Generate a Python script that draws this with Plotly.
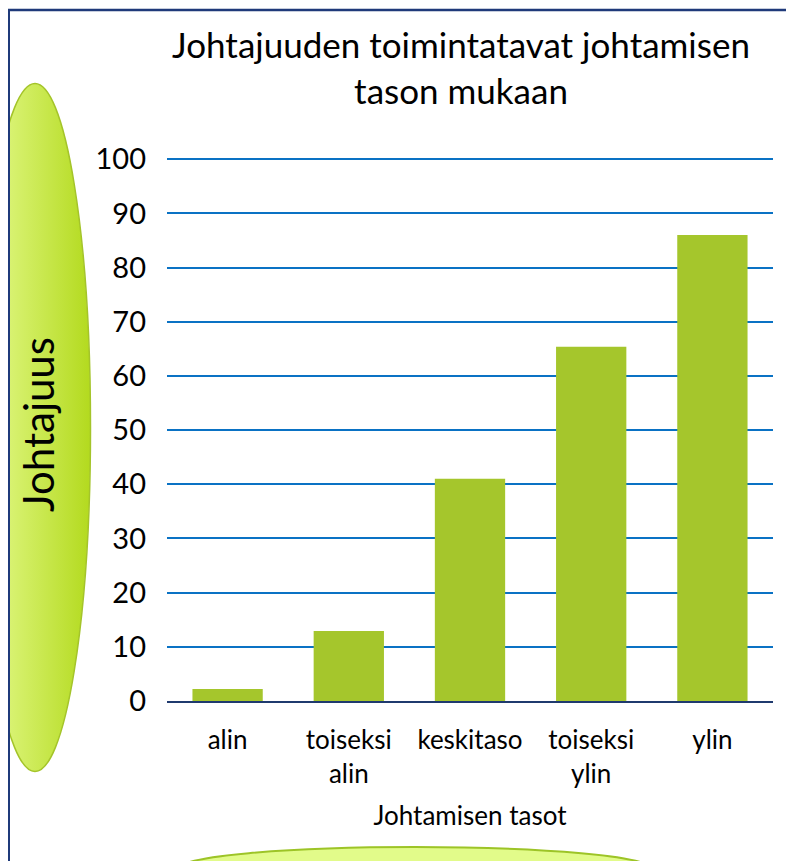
import base64
import plotly.graph_objects as go

# values
tasot = ["alin", "toiseksi<br>alin", "keskitaso", "toiseksi<br>ylin", "ylin"]
johtajuus = [2.2, 12.9, 41.0, 65.4, 86.0]
y_ticks = [0, 10, 20, 30, 40, 50, 60, 70, 80, 90, 100]

# page body adds an 8px margin, so the figure sits at (8, 8) in the window
OFF = 8
W, H = 794 - OFF, 861 - OFF
L, R, T, B = 167 - OFF, 21, 157 - OFF, 160
pw, ph = W - L - R, H - T - B

def px(x):
    return (x - OFF - L) / pw

def py(y):
    return (H - B - (y - OFF)) / ph

def ellipse_svg(w, h, c1, c2, edge, sw=1.5):
    svg = (
        f'<svg xmlns="http://www.w3.org/2000/svg" width="{w}" height="{h}" viewBox="0 0 {w} {h}">'
        '<defs><linearGradient id="g" x1="0" y1="0" x2="1" y2="0">'
        f'<stop offset="0" stop-color="{c1}"/><stop offset="1" stop-color="{c2}"/>'
        '</linearGradient></defs>'
        f'<ellipse cx="{w/2}" cy="{h/2}" rx="{w/2-sw}" ry="{h/2-sw}" fill="url(#g)" '
        f'stroke="{edge}" stroke-width="{sw}"/></svg>'
    )
    return "data:image/svg+xml;base64," + base64.b64encode(svg.encode()).decode()

def img(src, x0, y0, x1, y1):
    return dict(source=src, xref="paper", yref="paper", x=px(x0), y=py(y0),
                sizex=px(x1) - px(x0), sizey=py(y0) - py(y1),
                xanchor="left", yanchor="top", sizing="stretch", layer="below")

fig = go.Figure()
fig.add_trace(go.Bar(
    x=tasot, y=johtajuus,
    marker=dict(color="#a5c62c", line=dict(width=0)),
    width=0.58,
))

fig.update_layout(
    width=W, height=H, autosize=False,
    margin=dict(l=L, r=R, t=T, b=B),
    paper_bgcolor="white", plot_bgcolor="rgba(0,0,0,0)",
    font=dict(family="Lato, Open Sans, sans-serif", color="black"),
    showlegend=False,
    bargap=0.42,
    title=dict(text="Johtajuuden toimintatavat johtamisen<br>tason mukaan",
               x=px(461), xref="paper", xanchor="center",
               y=1 - (58 - OFF) / H, yref="container", yanchor="middle",
               font=dict(size=35)),
    xaxis=dict(tickfont=dict(size=26), showline=True, linecolor="#1f3a6e", linewidth=2,
               ticks="", ticklabelstandoff=15,
               title=dict(text="Johtamisen tasot", font=dict(size=26), standoff=19)),
    yaxis=dict(range=[0, 100.4], tickvals=y_ticks, tickfont=dict(size=29),
               showgrid=True, gridcolor="#0a72c4", gridwidth=2, zeroline=False,
               ticks="", ticklabelstandoff=20),
    images=[
        img(ellipse_svg(114, 691, "#e6fb90", "#b3da1e", "#a4c42a"), -22, 82, 92, 773),
        img(ellipse_svg(474, 46, "#e2fb8a", "#e2fb8a", "#9dc427", 2), 178, 845, 652, 891),
    ],
    shapes=[
        dict(type="line", xref="paper", yref="paper", x0=px(8), x1=px(794),
             y0=py(10), y1=py(10), line=dict(color="#1f3a7a", width=2.5)),
        dict(type="line", xref="paper", yref="paper", x0=px(9), x1=px(9),
             y0=py(9), y1=py(861), line=dict(color="#1f3a7a", width=2)),
    ],
    annotations=[
        dict(text="Johtajuus", xref="paper", yref="paper", x=px(38), y=py(425),
             showarrow=False, textangle=-90, font=dict(size=42),
             xanchor="center", yanchor="middle"),
    ],
)

fig.write_html("out.html")
